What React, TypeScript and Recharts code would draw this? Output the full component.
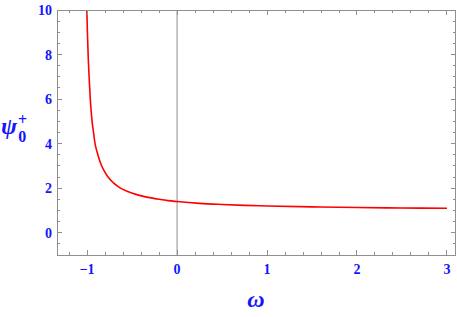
import { LineChart, Line, XAxis, YAxis, ReferenceLine } from 'recharts'

// values
const OMEGA = [
  -1.003, -0.997, -0.989, -0.978, -0.965, -0.956, -0.945, -0.929, -0.912, -0.886, -0.859, -0.84,
  -0.807, -0.77, -0.71, -0.63, -0.55, -0.45, -0.35, -0.2, -0.1, 0, 0.25, 0.5, 0.75, 1, 1.5, 2,
  2.5, 3,
]
const PSI = [
  10, 9, 8, 7, 6, 5.5, 5, 4.5, 4, 3.58, 3.22, 3.02,
  2.75, 2.51, 2.25, 2.0, 1.85, 1.71, 1.61, 1.5, 1.44, 1.4, 1.32, 1.27, 1.23, 1.2, 1.16, 1.13,
  1.11, 1.1,
]
const X_TICKS = [
  -1.2, -1, -0.8, -0.6, -0.4, -0.2, 0, 0.2, 0.4, 0.6, 0.8, 1, 1.2, 1.4, 1.6, 1.8, 2, 2.2, 2.4,
  2.6, 2.8, 3,
]
const Y_TICKS = [
  -0.5, 0, 0.5, 1, 1.5, 2, 2.5, 3, 3.5, 4, 4.5, 5, 5.5, 6, 6.5, 7, 7.5, 8, 8.5, 9, 9.5, 10,
]
const X_LABELED = [-1, 0, 1, 2, 3]
const Y_LABELED = [0, 2, 4, 6, 8, 10]

const data = OMEGA.map((w, i) => ({ w, psi: PSI[i] }))

const FRAME = '#8f8f8f'
const BLUE = '#1414ff'
const SERIF = "'Liberation Serif', 'Times New Roman', serif"

const has = (arr: number[], v: number) => arr.some(a => Math.abs(a - v) < 1e-6)
const fmt = (v: number) => (v < 0 ? '\u2212' + Math.abs(v) : String(v))

function BottomTick({ x, y, payload }: any) {
  const major = has(X_LABELED, payload.value)
  return (
    <g>
      <line x1={x} x2={x} y1={y} y2={y - (major ? 5 : 3)} stroke={FRAME} shapeRendering="crispEdges" />
      {major && (
        <text x={x} y={y + 19} textAnchor="middle" fill={BLUE} fontFamily={SERIF} fontWeight={700} fontSize={14}>
          {fmt(payload.value)}
        </text>
      )}
    </g>
  )
}

function TopTick({ x, y, payload }: any) {
  const major = has(X_LABELED, payload.value)
  return <line x1={x} x2={x} y1={y} y2={y + (major ? 5 : 3)} stroke={FRAME} shapeRendering="crispEdges" />
}

function LeftTick({ x, y, payload }: any) {
  const major = has(Y_LABELED, payload.value)
  return (
    <g>
      <line x1={x} x2={x + (major ? 5 : 3)} y1={y} y2={y} stroke={FRAME} shapeRendering="crispEdges" />
      {major && (
        <text x={x - 5} y={y + 5} textAnchor="end" fill={BLUE} fontFamily={SERIF} fontWeight={700} fontSize={14}>
          {fmt(payload.value)}
        </text>
      )}
    </g>
  )
}

function RightTick({ x, y, payload }: any) {
  const major = has(Y_LABELED, payload.value)
  return <line x1={x} x2={x - (major ? 5 : 3)} y1={y} y2={y} stroke={FRAME} shapeRendering="crispEdges" />
}

function PsiLabel() {
  return (
    <text x={1} y={134} fill={BLUE} fontFamily={SERIF} fontWeight={700} fontStyle="italic" fontSize={24}>
      ψ
      <tspan dx={1} dy={-9} fontSize={16} fontStyle="normal">+</tspan>
      <tspan dx={-9} dy={17} fontSize={16} fontStyle="normal">0</tspan>
    </text>
  )
}

function OmegaLabel() {
  return (
    <text x={256} y={307} textAnchor="middle" fill={BLUE} fontFamily={SERIF} fontWeight={700} fontStyle="italic" fontSize={24}>
      ω
    </text>
  )
}

const frameLine = { stroke: FRAME, shapeRendering: 'crispEdges' }

export default function App() {
  return (
    <div style={{ position: 'absolute', left: 0, top: 0, background: '#fff' }}>
      <LineChart width={457} height={317} data={data} margin={{ top: 9, right: 0.5, left: 0, bottom: 0 }}>
        <XAxis
          xAxisId="b"
          dataKey="w"
          type="number"
          domain={[-1.335, 3.095]}
          allowDataOverflow
          ticks={X_TICKS}
          interval={0}
          height={62}
          tickSize={0}
          tickMargin={0}
          tickLine={false}
          axisLine={frameLine}
          tick={<BottomTick />}
          label={{ content: () => <OmegaLabel /> }}
        />
        <XAxis
          xAxisId="t"
          dataKey="w"
          orientation="top"
          type="number"
          domain={[-1.335, 3.095]}
          allowDataOverflow
          ticks={X_TICKS}
          interval={0}
          height={1}
          tickSize={0}
          tickMargin={0}
          tickLine={false}
          axisLine={frameLine}
          tick={<TopTick />}
        />
        <YAxis
          yAxisId="l"
          type="number"
          domain={[-1, 10]}
          allowDataOverflow
          ticks={Y_TICKS}
          interval={0}
          width={57}
          tickSize={0}
          tickMargin={0}
          tickLine={false}
          axisLine={frameLine}
          tick={<LeftTick />}
          label={{ content: () => <PsiLabel /> }}
        />
        <YAxis
          yAxisId="r"
          orientation="right"
          type="number"
          domain={[-1, 10]}
          allowDataOverflow
          ticks={Y_TICKS}
          interval={0}
          width={1}
          tickSize={0}
          tickMargin={0}
          tickLine={false}
          axisLine={frameLine}
          tick={<RightTick />}
        />
        <ReferenceLine xAxisId="b" yAxisId="l" x={0} stroke="#8c8c8c" />
        {/* invisible series so the top/right frame axes get rendered */}
        <Line
          xAxisId="t"
          yAxisId="r"
          dataKey="psi"
          stroke="none"
          dot={false}
          activeDot={false}
          isAnimationActive={false}
        />
        <Line
          xAxisId="b"
          yAxisId="l"
          type="monotone"
          dataKey="psi"
          stroke="#ff0000"
          strokeWidth={1.6}
          dot={false}
          isAnimationActive={false}
        />
      </LineChart>
    </div>
  )
}
